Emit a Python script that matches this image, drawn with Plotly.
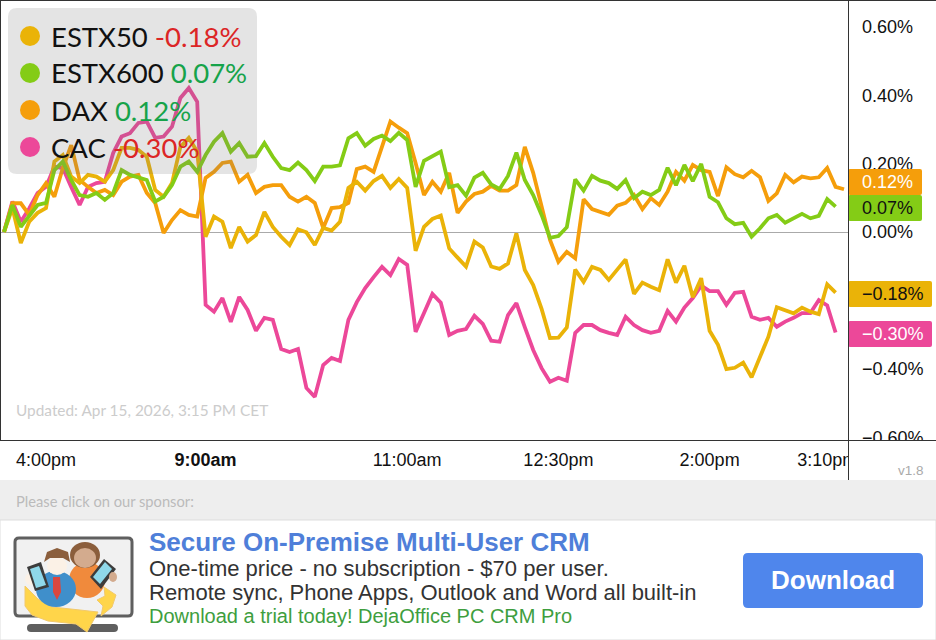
import plotly.graph_objects as go

W, H = 936, 640

ESTX50 = [0, .070, -.032, .030, .056, .070, .206, .225, .162, .143, .167, .162, .147, .181, .246, .246, .240, .220, .123, .103,
          .143, .249, .275, .235, -.014, .045, .030, -.047, .015, -.028, -.009, .059, .015, -.014, -.038, .008, -.001, -.038, .012, .004,
          .030, .129, .147, .121, .149, .164, .129, .155, .129, -.055, .015, .038, .048, -.048, -.075, -.101, -.028, -.045, -.101, -.108,
          -.092, -.004, -.111, -.155, -.225, -.310, -.309, -.279, -.110, -.146, -.102, -.111, -.140, -.111, -.080, -.181, -.148, -.160, -.170, -.080,
          -.148, -.099, -.191, -.135, -.289, -.330, -.401, -.397, -.382, -.425, -.365, -.306, -.220, -.230, -.238, -.221, -.233, -.240, -.153, -.177]
ESTX600 = [0, .079, .015, .045, .079, .085, .181, .206, .152, .108, .103, .114, .094, .114, .181, .167, .158, .152, .089, .103,
           .137, .191, .206, .176, .225, .264, .289, .235, .260, .220, .222, .260, .220, .187, .181, .203, .181, .149, .191, .191,
           .195, .274, .289, .252, .272, .282, .266, .290, .269, .132, .208, .220, .235, .131, .137, .106, .159, .173, .139, .126,
           .164, .232, .152, .108, .050, -.017, -.012, .014, .154, .121, .164, .150, .143, .126, .152, .099, .118, .108, .123, .188,
           .137, .196, .149, .199, .103, .087, .040, .023, .027, -.014, .011, .040, .050, .027, .040, .053, .040, .047, .096, .074]
DAX = [0, .084, .084, .050, .108, .143, .103, .187, .254, .152, .132, .114, .123, .108, .147, .162, .167, .114, .085, -.003,
       .035, .064, .050, .045, .158, .176, .202, .206, .147, .167, .114, .132, .137, .137, .103, .089, .103, .085, .012, .070,
       .073, .085, .184, .191, .176, .249, .323, .305, .289, .202, .108, .147, .118, .173, .056, .089, .111, .118, .135, .121,
       .121, .137, .249, .173, .074, -.023, -.087, -.058, -.077, .096, .067, .059, .050, .077, .085, .108, .067, .099, .079, .118,
       .176, .150, .196, .181, .176, .105, .189, .169, .160, .179, .160, .091, .113, .167, .145, .162, .157, .160, .187, .132, .125]
CAC = [0, .089, .030, .069, .114, .132, .191, .187, .132, .079, .132, .143, .147, .231, .279, .289, .319, .323, .275, .279,
       .308, .392, .421, .381, -.213, -.233, -.193, -.263, -.190, -.228, -.289, -.251, -.257, -.342, -.351, -.342, -.456, -.482, -.389, -.368,
       -.377, -.257, -.205, -.164, -.132, -.102, -.126, -.079, -.096, -.292, -.237, -.181, -.207, -.301, -.289, -.284, -.245, -.269, -.318, -.321,
       -.243, -.208, -.278, -.345, -.398, -.438, -.426, -.435, -.295, -.272, -.272, -.287, -.295, -.301, -.248, -.272, -.287, -.295, -.289, -.231,
       -.262, -.221, -.193, -.157, -.173, -.173, -.213, -.178, -.175, -.248, -.257, -.251, -.277, -.262, -.251, -.237, -.237, -.199, -.215, -.294]

X_TICK_POS = [5, 24, 48, 66, 84, 98]
X_TICK_TEXT = ["4:00pm", "<b>9:00am</b>", "11:00am", "12:30pm", "2:00pm", "3:10pm"]
Y_TICK_VALS = [.6, .4, .2, 0, -.4, -.6]
Y_TICK_TEXT = ["0.60%", "0.40%", "0.20%", "0.00%", "−0.40%", "−0.60%"]
NAMES = ["ESTX50", "ESTX600", "DAX", "CAC"]
LAST = ["-0.18%", "0.07%", "0.12%", "-0.30%"]
COLORS = {"ESTX50": "#EAB308", "ESTX600": "#84CC16", "DAX": "#F59E0B", "CAC": "#EC4899"}

SANS = "Liberation Sans"
ROUND = "Lato"


def px(x):
    return x / W


def py(y):
    return 1 - y / H


shapes, notes = [], []


def rect(x0, y0, x1, y1, fill, line=None, r=0, lw=1):
    if r:
        d = (f"M{px(x0 + r)},{py(y0)} L{px(x1 - r)},{py(y0)} Q{px(x1)},{py(y0)} {px(x1)},{py(y0 + r)} "
             f"L{px(x1)},{py(y1 - r)} Q{px(x1)},{py(y1)} {px(x1 - r)},{py(y1)} "
             f"L{px(x0 + r)},{py(y1)} Q{px(x0)},{py(y1)} {px(x0)},{py(y1 - r)} "
             f"L{px(x0)},{py(y0 + r)} Q{px(x0)},{py(y0)} {px(x0 + r)},{py(y0)} Z")
        s = dict(type="path", path=d)
    else:
        s = dict(type="rect", x0=px(x0), x1=px(x1), y0=py(y0), y1=py(y1))
    s.update(xref="paper", yref="paper", layer="above", fillcolor=fill,
             line=dict(color=line or "rgba(0,0,0,0)", width=lw if line else 0))
    shapes.append(s)


def oval(cx, cy, rx, ry, fill, line=None, lw=1):
    shapes.append(dict(type="circle", xref="paper", yref="paper", layer="above",
                       x0=px(cx - rx), x1=px(cx + rx), y0=py(cy - ry), y1=py(cy + ry), fillcolor=fill,
                       line=dict(color=line or "rgba(0,0,0,0)", width=lw if line else 0)))


def seg(x0, y0, x1, y1, color, lw=1):
    shapes.append(dict(type="line", xref="paper", yref="paper", layer="above",
                       x0=px(x0), x1=px(x1), y0=py(y0), y1=py(y1), line=dict(color=color, width=lw)))


def poly(points, fill, line=None, lw=1):
    d = "M" + " L".join(f"{px(a)},{py(b)}" for a, b in points) + " Z"
    shapes.append(dict(type="path", path=d, xref="paper", yref="paper", layer="above", fillcolor=fill,
                       line=dict(color=line or "rgba(0,0,0,0)", width=lw if line else 0)))


def text(x, y, s, size, color, font=SANS, anchor="left", bold=False):
    notes.append(dict(xref="paper", yref="paper", x=px(x), y=py(y), text=f"<b>{s}</b>" if bold else s,
                      showarrow=False, xanchor=anchor, yanchor="middle", borderpad=0,
                      font=dict(family=font, size=size, color=color)))


# frame
seg(0, 0.5, 936, 0.5, "#333333")
seg(0.5, 0, 0.5, 440, "#333333")

# legend panel over the lines
rect(8, 8, 257, 174, "rgba(120,120,120,0.2)", r=9)
RED, GREEN = "#DC2626", "#16A34A"
for k, (n, v) in enumerate(zip(NAMES, LAST)):
    yc = 36 + 37 * k
    oval(30, yc, 10, 10, COLORS[n])
    text(49.5, yc, f'{n} <span style="color:{RED if v.startswith("-") else GREEN}">{v}</span>', 27.5, "#111111", ROUND)

text(15, 410, "Updated: Apr 15, 2026, 3:15 PM CET", 15.4, "#CCCCCC", ROUND)

# right side value tags
rect(848, 169, 922, 195, COLORS["DAX"], r=2)
rect(848, 195, 922, 221, COLORS["ESTX600"], r=2)
rect(848, 281, 932, 307, COLORS["ESTX50"], r=2)
rect(848, 321, 932, 347, COLORS["CAC"], r=2)
text(860.5, 182, "0.12%", 18, "#FFFFFF")
text(860.5, 207.5, "0.07%", 18, "#111111")
text(860.5, 294, "−0.18%", 18, "#111111")
text(860.5, 334, "−0.30%", 18, "#FFFFFF")

# bottom of the chart block
rect(849, 441, 936, 480, "#FFFFFF")
seg(0, 440.5, 936, 440.5, "#333333")
seg(848.5, 0, 848.5, 480, "#333333")
text(925, 470, "v1.8", 13.5, "#AAAAAA", anchor="right")

# sponsor strip
rect(0, 480, 936, 520, "#EEEEEE")
text(15, 501, "Please click on our sponsor:", 14.7, "#BBBBBB", ROUND)
rect(0, 520, 936, 640, "#FFFFFF", line="#DDDDDD")

# icon
rect(15, 538, 132, 616, "#F1F1F1", line="#5F5F5F", r=4, lw=3)
rect(27, 624, 118, 632, "#5F5F5F", r=4)
poly([(25, 586), (25, 606), (32, 615), (48, 621), (76, 624), (87, 632), (98, 612), (80, 610), (52, 607), (38, 599)], "#FFD54A", "#F2C96B")
poly([(104, 587), (116, 595), (112, 607), (101, 616), (103, 606), (97, 600), (105, 596)], "#FFD54A", "#F2C96B")
oval(87, 580, 18, 18, "#F08A3C")
oval(85, 555, 15, 13, "#8B5E3C")
oval(85, 558, 11, 10, "#D3AB8E")
poly([(90, 577), (104, 559), (116, 569), (101, 589)], "#3C3C3C")
poly([(93, 577), (105, 562), (112, 569), (100, 584)], "#8FD8EA")
oval(113, 577, 4, 5, "#D3AB8E")
oval(56, 589, 20, 18, "#3F8FCB")
oval(57, 566, 10, 9, "#FBF1E6")
poly([(44, 562), (47, 552), (57, 548), (68, 552), (70, 562), (63, 558), (50, 558)], "#8B5E3C")
poly([(53, 577), (60, 577), (61, 592), (57, 600), (53, 592)], "#D9473F")
oval(31, 579, 6, 6, "#FBF1E6")
poly([(27, 567), (41, 562), (49, 587), (35, 591)], "#3C3C3C")
poly([(30, 569), (39, 566), (46, 585), (36, 588)], "#8FD8EA")

# ad copy
text(148, 542, "Secure On-Premise Multi-User CRM", 26, "#4F7FD9", bold=True)
text(148, 568, "One-time price - no subscription - $70 per user.", 22, "#333333")
text(148, 592, "Remote sync, Phone Apps, Outlook and Word all built-in", 22, "#333333")
text(148, 616, "Download a trial today! DejaOffice PC CRM Pro", 20, "#3E9E3E")
rect(743, 553, 923, 608, "#4F86EC", r=5)
text(833, 580, "Download", 26, "#FFFFFF", anchor="center", bold=True)

fig = go.Figure()
for name, series in [("CAC", CAC), ("DAX", DAX), ("ESTX50", ESTX50), ("ESTX600", ESTX600)]:
    fig.add_trace(go.Scatter(x=list(range(len(series))), y=series, mode="lines", name=name,
                             line=dict(color=COLORS[name], width=3.8), hoverinfo="skip"))

fig.update_layout(
    width=W, height=H, autosize=False, showlegend=False,
    margin=dict(l=0, r=0, t=0, b=0, pad=0),
    paper_bgcolor="#FFFFFF", plot_bgcolor="#FFFFFF",
    shapes=shapes, annotations=notes,
    xaxis=dict(domain=[0, 848 / W], range=[-4 / 8.4, 844 / 8.4], tickmode="array",
               tickvals=X_TICK_POS, ticktext=X_TICK_TEXT, showgrid=False, zeroline=False, showline=False,
               ticks="", ticklabelstandoff=7, tickangle=0, automargin=False,
               tickfont=dict(family=SANS, size=18, color="#111111")),
    yaxis=dict(domain=[1 - 440 / H, 1], range=[-208 / 342, 232 / 342], side="right", tickmode="array",
               tickvals=Y_TICK_VALS, ticktext=Y_TICK_TEXT, showgrid=False, zeroline=True,
               zerolinecolor="#AAAAAA", zerolinewidth=1, showline=False, ticks="", ticklabelstandoff=13,
               automargin=False, tickfont=dict(family=SANS, size=18, color="#111111")),
)

fig.write_html("out.html", config=dict(displayModeBar=False),
               post_script="document.body.style.margin='0';document.body.style.overflow='hidden';")
